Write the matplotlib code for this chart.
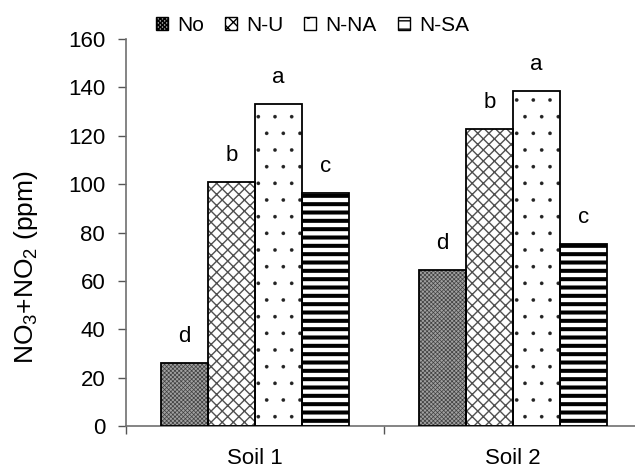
import matplotlib
matplotlib.use("Agg")
import matplotlib.pyplot as plt
import numpy as np

categories = ["Soil 1", "Soil 2"]
series = ["No", "N-U", "N-NA", "N-SA"]
values_no = [26.2, 64.5]
values_nu = [101.0, 123.0]
values_nna = [133.0, 138.6]
values_nsa = [96.5, 75.2]
letters_no = ["d", "d"]
letters_nu = ["b", "b"]
letters_nna = ["a", "a"]
letters_nsa = ["c", "c"]
yticks = [0, 20, 40, 60, 80, 100, 120, 140, 160]

plt.rcParams['font.family'] = ['Liberation Sans', 'DejaVu Sans']
plt.rcParams['mathtext.fontset'] = 'custom'
plt.rcParams['mathtext.rm'] = 'Liberation Sans'
plt.rcParams['mathtext.it'] = 'Liberation Sans:italic'

fig = plt.figure(figsize=(6.35, 4.70), dpi=100)
ax = fig.add_axes([0.1984, 0.0936, 0.8016, 0.8234])

x = np.arange(len(categories))
w = 0.183
offsets = [-1.5 * w, -0.5 * w, 0.5 * w, 1.5 * w]
data = [values_no, values_nu, values_nna, values_nsa]
letters = [letters_no, letters_nu, letters_nna, letters_nsa]
styles = [
    dict(facecolor='#a0a0a0', hatch='xxxxxxxx', hlw=0.5, hc='#404040'),
    dict(facecolor='white', hatch='xxx', hlw=1.0, hc='#505050'),
    dict(facecolor='white', hatch='.', hlw=0.2, hc='#222222'),
    dict(facecolor='white', hatch='--', hlw=2.9, hc='black'),
]

handles = []
for i, (vals, st) in enumerate(zip(data, styles)):
    with plt.rc_context({'hatch.linewidth': st['hlw'], 'hatch.color': st['hc']}):
        bars = ax.bar(x + offsets[i], vals, width=w, facecolor=st['facecolor'],
                      edgecolor=st['hc'], hatch=st['hatch'], linewidth=0, zorder=2,
                      label=series[i])
        for b in bars:
            try:
                b.set_hatch_linewidth(st['hlw'])
            except Exception:
                pass
    ax.bar(x + offsets[i], vals, width=w, fill=False, edgecolor='black',
           linewidth=1.3, zorder=3)
    handles.append(bars)
    for xi, v, t in zip(x + offsets[i], vals, letters[i]):
        ax.annotate(t, (xi, v), xytext=(0, 15), textcoords='offset points',
                    ha='center', va='baseline', fontsize=16)

ax.set_xlim(-0.5, 1.473)
ax.set_ylim(0, 160)
ax.set_yticks(yticks)
ax.tick_params(axis='y', direction='out', length=6, width=1, color='#555555',
               labelsize=16, pad=9)
ax.set_xticks(x)
ax.set_xticklabels(categories, fontsize=16)
ax.tick_params(axis='x', length=0, pad=16)
ax.set_xticks([-0.5, 0.5], minor=True)
ax.tick_params(axis='x', which='minor', direction='out', length=6, width=1,
               color='#555555')

for s in ['top', 'right']:
    ax.spines[s].set_visible(False)
for s in ['left', 'bottom']:
    ax.spines[s].set_color('#707070')
    ax.spines[s].set_linewidth(1.2)

ax.set_ylabel('NO$_3$+NO$_2$ (ppm)', fontsize=19)
ax.yaxis.label.set_va('center')
ax.yaxis.set_label_coords(-0.196, 0.41)

leg = fig.legend(handles=handles, labels=series, loc='center',
                 bbox_to_anchor=(0.492, 1 - 25.5 / 470), ncol=4, frameon=False,
                 fontsize=15, handlelength=0.58, handleheight=0.58,
                 handletextpad=0.45, columnspacing=1.0, borderpad=0)
for p in leg.get_patches():
    p.set_linewidth(1)
    p.set_edgecolor('black')

fig.savefig('out.png', dpi=100)
